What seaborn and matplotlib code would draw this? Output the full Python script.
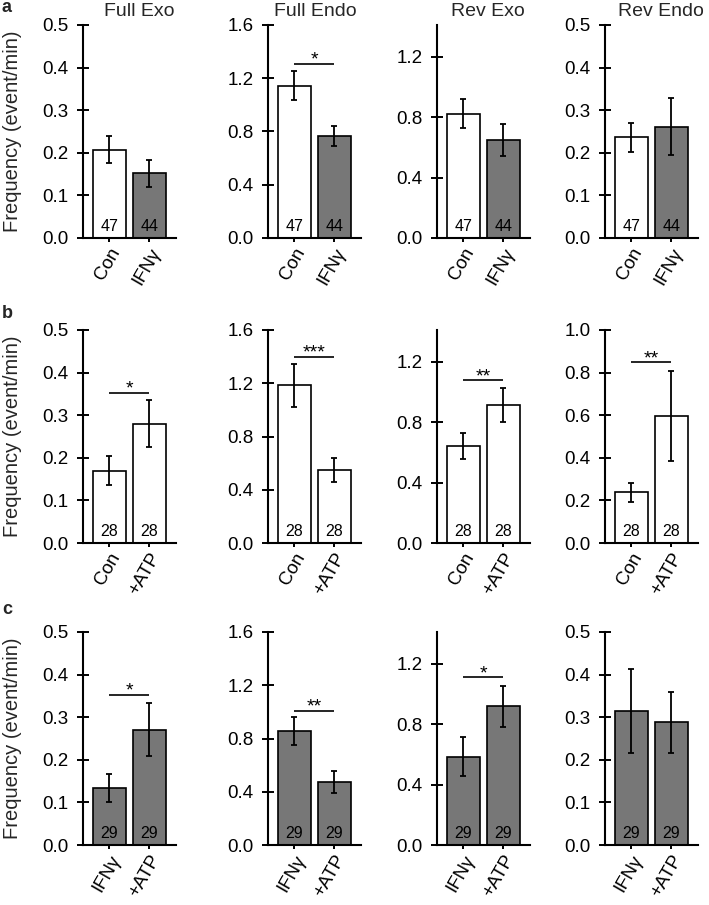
import matplotlib
matplotlib.use("Agg")
import matplotlib.pyplot as plt
import seaborn as sns
import pandas as pd
import numpy as np

sns.set_theme(style="ticks")
plt.rcParams['font.family'] = ['Liberation Sans', 'DejaVu Sans']

# ---------------- data ----------------
panel_titles = ["Full Exo", "Full Endo", "Rev Exo", "Rev Endo"]
row_letters = ["a", "b", "c"]

cats_a = ["Con", "IFNγ"]
cats_b = ["Con", "+ATP"]
cats_c = ["IFNγ", "+ATP"]
n_a = [47, 44]
n_b = [28, 28]
n_c = [29, 29]

white = "#FFFFFF"
gray = "#777777"
colors_a = [white, gray]
colors_b = [white, white]
colors_c = [gray, gray]

# row a
mean_a_full_exo = [0.207, 0.152]
sem_a_full_exo = [0.032, 0.032]
mean_a_full_endo = [1.145, 0.766]
sem_a_full_endo = [0.112, 0.075]
mean_a_rev_exo = [0.824, 0.648]
sem_a_rev_exo = [0.097, 0.105]
mean_a_rev_endo = [0.236, 0.261]
sem_a_rev_endo = [0.034, 0.067]

# row b
mean_b_full_exo = [0.170, 0.280]
sem_b_full_exo = [0.035, 0.055]
mean_b_full_endo = [1.185, 0.550]
sem_b_full_endo = [0.160, 0.092]
mean_b_rev_exo = [0.641, 0.913]
sem_b_rev_exo = [0.086, 0.114]
mean_b_rev_endo = [0.239, 0.597]
sem_b_rev_endo = [0.045, 0.210]

# row c
mean_c_full_exo = [0.134, 0.271]
sem_c_full_exo = [0.033, 0.063]
mean_c_full_endo = [0.853, 0.475]
sem_c_full_endo = [0.105, 0.083]
mean_c_rev_exo = [0.583, 0.917]
sem_c_rev_exo = [0.129, 0.137]
mean_c_rev_endo = [0.314, 0.288]
sem_c_rev_endo = [0.099, 0.071]

# significance (stars, bar height); None = no mark
sig_a = [None, ("*", 1.31), None, None]
sig_b = [("*", 0.352), ("***", 1.40), ("**", 1.077), ("**", 0.848)]
sig_c = [("*", 0.352), ("**", 1.008), ("*", 1.111), None]

ylims_a = [0.5, 1.6, 1.41, 0.5]
ylims_b = [0.5, 1.6, 1.41, 1.0]
ylims_c = [0.5, 1.6, 1.41, 0.5]
ytick_step_a = [0.1, 0.4, 0.4, 0.1]
ytick_step_b = [0.1, 0.4, 0.4, 0.2]
ytick_step_c = [0.1, 0.4, 0.4, 0.1]

rows = [
    dict(cats=cats_a, n=n_a, colors=colors_a,
         means=[mean_a_full_exo, mean_a_full_endo, mean_a_rev_exo, mean_a_rev_endo],
         sems=[sem_a_full_exo, sem_a_full_endo, sem_a_rev_exo, sem_a_rev_endo],
         sig=sig_a, ylims=ylims_a, steps=ytick_step_a),
    dict(cats=cats_b, n=n_b, colors=colors_b,
         means=[mean_b_full_exo, mean_b_full_endo, mean_b_rev_exo, mean_b_rev_endo],
         sems=[sem_b_full_exo, sem_b_full_endo, sem_b_rev_exo, sem_b_rev_endo],
         sig=sig_b, ylims=ylims_b, steps=ytick_step_b),
    dict(cats=cats_c, n=n_c, colors=colors_c,
         means=[mean_c_full_exo, mean_c_full_endo, mean_c_rev_exo, mean_c_rev_endo],
         sems=[sem_c_full_exo, sem_c_full_endo, sem_c_rev_exo, sem_c_rev_endo],
         sig=sig_c, ylims=ylims_c, steps=ytick_step_c),
]

# ---------------- layout ----------------
W, H = 709, 905
fig = plt.figure(figsize=(W / 100, H / 100), dpi=100)

col_left_px = [83, 268, 437, 605]
ax_w_px = 93
row_top_px = [25, 330, 632]
row_bot_px = [238, 543, 845]
letter_y_px = [8, 313, 609]
title_xfrac = [0.60, 0.51, 0.55, 0.60]

for r, row in enumerate(rows):
    for c in range(4):
        left = col_left_px[c] / W
        bottom = 1 - row_bot_px[r] / H
        height = (row_bot_px[r] - row_top_px[r]) / H
        ax = fig.add_axes([left, bottom, ax_w_px / W, height])

        df = pd.DataFrame({"cond": row["cats"], "freq": row["means"][c]})
        sns.barplot(data=df, x="cond", y="freq", hue="cond",
                    palette=row["colors"], order=row["cats"],
                    hue_order=row["cats"], legend=False, errorbar=None,
                    width=0.82, edgecolor="black", linewidth=1.2,
                    saturation=1, ax=ax)
        xs = np.arange(len(row["cats"]))
        ax.errorbar(xs, row["means"][c], yerr=row["sems"][c], fmt="none",
                    ecolor="black", elinewidth=1.3, capsize=2.2,
                    capthick=1.3, zorder=5)

        # n labels
        for xi, nv in zip(xs, row["n"]):
            ax.annotate(str(nv), (xi, 0), xytext=(0, 3),
                        textcoords="offset points", ha="center",
                        va="bottom", fontsize=11.5, color="black")

        # significance
        sg = row["sig"][c]
        if sg is not None:
            stars, yv = sg
            ax.plot([xs[0], xs[1]], [yv, yv], color="black", lw=1.2,
                    solid_capstyle="butt")
            ax.annotate(stars, ((xs[0] + xs[1]) / 2, yv), xytext=(0, -3.5),
                        textcoords="offset points", ha="center",
                        va="bottom", fontsize=14, color="black")

        ax.set_xlim(-0.66, 1.67)
        ymax = row["ylims"][c]
        ax.set_ylim(0, ymax)
        step = row["steps"][c]
        ticks = np.arange(0, ymax + 1e-9, step)
        ax.set_yticks(ticks)
        ax.set_yticklabels([f"{t:.1f}" for t in ticks], fontsize=13.5)
        ax.set_xticks(xs)
        ax.set_xticklabels(row["cats"], fontsize=13.5, rotation=60,
                           ha="right", va="top", rotation_mode="anchor")
        ax.set_xlabel("")
        ax.set_ylabel("")
        ax.tick_params(axis="y", direction="inout", length=9, width=1.4,
                       pad=6, colors="black")
        ax.tick_params(axis="x", direction="out", length=3, width=1.4,
                       pad=2, colors="black")
        sns.despine(ax=ax)
        for s in ("left", "bottom"):
            ax.spines[s].set_linewidth(1.5)
            ax.spines[s].set_color("black")
        ax.set_facecolor("none")

        if r == 0:
            ax.text(title_xfrac[c], 1.04, panel_titles[c],
                    transform=ax.transAxes, ha="center", va="baseline",
                    fontsize=14)

    # row letter and y label
    fig.text(2 / W, 1 - letter_y_px[r] / H, row_letters[r], fontsize=13,
             fontweight="bold", ha="left", va="center")
    fig.text(13 / W, 1 - (row_top_px[r] + row_bot_px[r]) / 2 / H,
             "Frequency (event/min)", rotation=90, fontsize=14.5,
             ha="center", va="center")

fig.savefig("out.png", dpi=100)
